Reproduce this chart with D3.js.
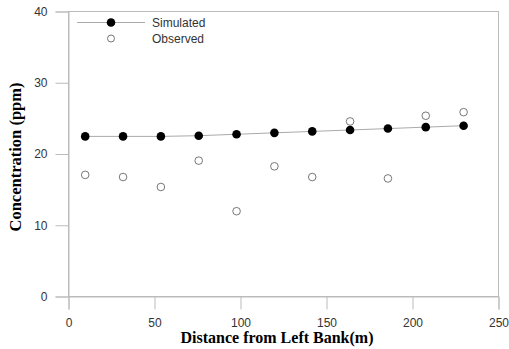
<!DOCTYPE html>
<html lang="en">
<head>
    <meta charset="UTF-8">
    <title>Concentration vs distance</title>
    <script src="https://d3js.org/d3.v7.min.js"></script>
    <style>
        body { margin: 0; background: #fff; }
        text { font-family: "Liberation Sans", Arial, sans-serif; }
    </style>
</head>
<body>
    <svg id="chart"></svg>
    <script>
        const width = 509;
        const height = 349;
        const margin = {top: 11, right: 11, bottom: 53, left: 68};

        // data
        const distance = [10, 32, 54, 76, 98, 120, 142, 164, 186, 208, 230];
        const simulated = [22.4, 22.4, 22.4, 22.5, 22.7, 22.9, 23.1, 23.3, 23.5, 23.7, 23.9];
        const observed = [17.0, 16.7, 15.3, 19.0, 11.9, 18.2, 16.7, 24.5, 16.5, 25.3, 25.8];
        const xTicks = [0, 50, 100, 150, 200, 250];
        const yTicks = [0, 10, 20, 30, 40];
        const seriesNames = ["Simulated", "Observed"];

        const axisColor = "#bbbbbb";
        const textColor = "#333333";

        const svg = d3.select("#chart")
            .attr("width", width)
            .attr("height", height);

        const x = d3.scaleLinear().domain([0, 250]).range([margin.left, width - margin.right]);
        const y = d3.scaleLinear().domain([0, 40]).range([height - margin.bottom, margin.top]);

        // frame (top + right)
        svg.append("rect")
            .attr("x", x(0) + 0.5)
            .attr("y", y(40) + 0.5)
            .attr("width", x(250) - x(0))
            .attr("height", y(0) - y(40))
            .attr("fill", "none")
            .attr("stroke", axisColor);

        const xAxis = svg.append("g")
            .attr("transform", `translate(0.5,${y(0) + 0.5})`)
            .call(d3.axisBottom(x).tickValues(xTicks).tickSize(13).tickPadding(9).tickFormat(d3.format("d")));

        const yAxis = svg.append("g")
            .attr("transform", `translate(${x(0) + 0.5},0.5)`)
            .call(d3.axisLeft(y).tickValues(yTicks).tickSize(13).tickPadding(8).tickFormat(d3.format("d")));

        [xAxis, yAxis].forEach(a => {
            a.select(".domain").attr("stroke", axisColor);
            a.selectAll(".tick line").attr("stroke", axisColor);
            a.selectAll(".tick text")
                .attr("fill", textColor)
                .style("font-size", "12px")
                .style("font-family", "'Liberation Sans', Arial, sans-serif");
        });

        // simulated line
        const line = d3.line()
            .x((d, i) => x(distance[i]))
            .y(d => y(d));

        svg.append("path")
            .datum(simulated)
            .attr("d", line)
            .attr("fill", "none")
            .attr("stroke", "#aaaaaa")
            .attr("stroke-width", 1);

        svg.append("g")
            .selectAll("circle")
            .data(observed)
            .join("circle")
            .attr("cx", (d, i) => x(distance[i]))
            .attr("cy", d => y(d))
            .attr("r", 3.8)
            .attr("fill", "#fff")
            .attr("stroke", "#555")
            .attr("stroke-width", 0.8);

        svg.append("g")
            .selectAll("circle")
            .data(simulated)
            .join("circle")
            .attr("cx", (d, i) => x(distance[i]))
            .attr("cy", d => y(d))
            .attr("r", 4.3)
            .attr("fill", "#000");

        // legend
        const legend = svg.append("g");
        legend.append("line")
            .attr("x1", 77).attr("x2", 145)
            .attr("y1", 22.5).attr("y2", 22.5)
            .attr("stroke", "#aaaaaa");
        legend.append("circle")
            .attr("cx", 111).attr("cy", 22.5).attr("r", 4.3)
            .attr("fill", "#000");
        legend.append("circle")
            .attr("cx", 111).attr("cy", 38.5).attr("r", 3.5)
            .attr("fill", "#fff").attr("stroke", "#555").attr("stroke-width", 0.8);
        legend.selectAll("text")
            .data(seriesNames)
            .join("text")
            .attr("x", 152)
            .attr("y", (d, i) => 22.5 + i * 16)
            .attr("dy", "0.35em")
            .attr("fill", textColor)
            .style("font-size", "12px")
            .text(d => d);

        // axis titles
        svg.append("text")
            .attr("x", 277)
            .attr("y", 343)
            .attr("text-anchor", "middle")
            .style("font-family", "'Liberation Serif', 'Times New Roman', serif")
            .style("font-weight", "bold")
            .style("font-size", "16px")
            .attr("fill", "#000")
            .text("Distance from Left Bank(m)");

        svg.append("text")
            .attr("transform", "translate(21,157) rotate(-90)")
            .attr("text-anchor", "middle")
            .style("font-family", "'Liberation Serif', 'Times New Roman', serif")
            .style("font-weight", "bold")
            .style("font-size", "16.5px")
            .attr("fill", "#000")
            .text("Concentration (ppm)");
    </script>
</body>
</html>
